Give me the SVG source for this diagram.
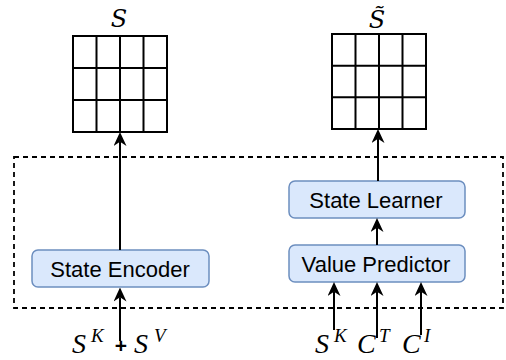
<svg xmlns="http://www.w3.org/2000/svg" width="506" height="360" viewBox="0 0 506 360">
<style>
.grid{fill:#ffffff;stroke:#000;stroke-width:2}
.gl{stroke:#000;stroke-width:2}
.box{fill:#dae8fc;stroke:#6c8ebf;stroke-width:1.5}
.lbl{font-family:"Liberation Sans",Arial,sans-serif;font-size:22px;fill:#000;text-anchor:middle}
.m{font-family:"Liberation Serif","Times New Roman",serif;font-style:italic;fill:#000}
.title{font-family:"DejaVu Serif",serif;font-style:italic;font-size:24px;fill:#000;text-anchor:middle}
.big{font-size:28px}
.sup{font-size:19px}
.conn{fill:none;stroke:#000;stroke-width:2;marker-end:url(#arr)}
.frame{fill:none;stroke:#000;stroke-width:1.8;stroke-dasharray:5 4}
</style>
<defs>
<marker id="arr" viewBox="0 0 10 10" refX="3" refY="5" markerWidth="14" markerHeight="13" markerUnits="userSpaceOnUse" orient="auto" preserveAspectRatio="none">
<path d="M0,0 L10,5 L0,10 L3,5 z" fill="#000"/>
</marker>
</defs>
<rect id="frame" class="frame" x="14" y="157" width="489" height="151"/>
<g id="grid-S">
<rect class="grid" x="73" y="36" width="94" height="96"/>
<path class="gl" d="M96.5,36V132M120,36V132M143.5,36V132M73,68H167M73,100H167"/>
<text class="title" x="119" y="27">S</text>
</g>
<g id="grid-S-tilde">
<rect class="grid" x="332" y="34" width="94" height="95"/>
<path class="gl" d="M355.5,34V129M379,34V129M402.5,34V129M332,65.7H426M332,97.3H426"/>
<text class="title" x="377" y="28">S&#x303;</text>
</g>
<g id="state-encoder">
<rect class="box" x="32" y="250" width="177" height="37" rx="6"/>
<text class="lbl" x="120" y="276.5">State Encoder</text>
</g>
<g id="state-learner">
<rect class="box" x="289" y="181" width="176" height="37" rx="6"/>
<text class="lbl" x="376" y="207.5">State Learner</text>
</g>
<g id="value-predictor">
<rect class="box" x="289" y="245" width="176" height="37" rx="6"/>
<text class="lbl" x="376" y="271.5">Value Predictor</text>
</g>
<g id="connectors">
<path class="conn" d="M120,250V141.8"/>
<path class="conn" d="M120,341V297.3"/>
<path class="conn" d="M378,181V138.8"/>
<path class="conn" d="M377,245V227.8"/>
<path class="conn" d="M334,330V291.8"/>
<path class="conn" d="M377,338V291.8"/>
<path class="conn" d="M421,335V291.8"/>
</g>
<g id="input-left">
<text class="m big" x="72" y="353">S</text>
<text class="m sup" x="91" y="342">K</text>
<text x="121" y="353" font-family="'Liberation Sans',Arial,sans-serif" font-size="21" font-weight="bold" text-anchor="middle">+</text>
<text class="m big" x="134" y="353">S</text>
<text class="m sup" x="154" y="342">V</text>
</g>
<g id="input-right">
<text class="m big" x="315" y="353">S</text>
<text class="m sup" x="334" y="342">K</text>
<text class="m big" x="357" y="353">C</text>
<text class="m sup" x="379" y="342">T</text>
<text class="m big" x="402" y="353">C</text>
<text class="m sup" x="424" y="342">I</text>
</g>
</svg>
